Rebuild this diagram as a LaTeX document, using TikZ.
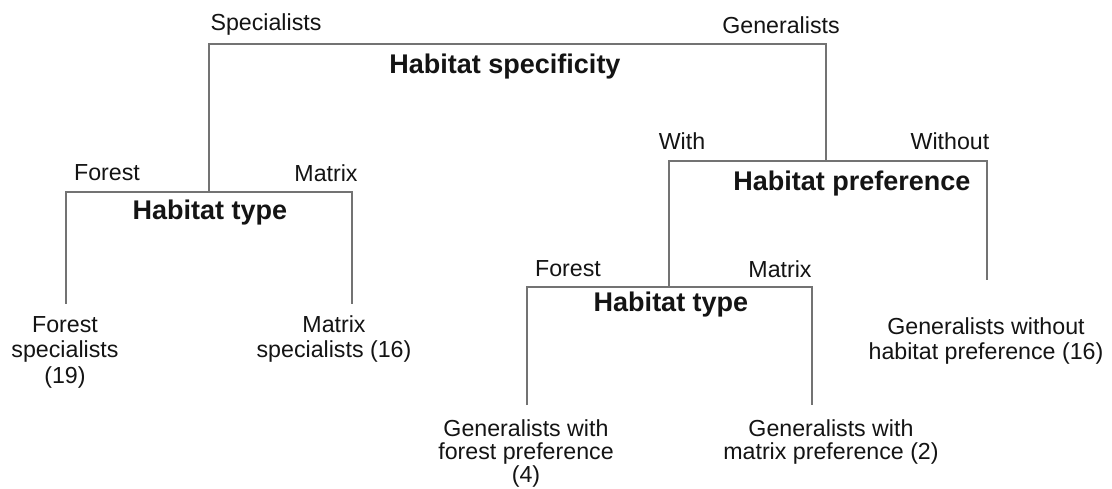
\documentclass[tikz,border=0pt]{standalone}
\usepackage{fontspec}
\setmainfont{Liberation Sans}
\definecolor{linec}{RGB}{115,115,115}
\definecolor{txt}{RGB}{20,20,20}
\begin{document}
\begin{tikzpicture}[x=1pt,y=-1pt,
  lab/.style={font=\fontsize{23.2}{25.5}\selectfont, text=txt, inner sep=0pt, align=center},
  labb/.style={lab, font=\fontsize{23.2}{23}\selectfont},
  head/.style={font=\bfseries\fontsize{27}{29}\selectfont, text=txt, inner sep=0pt},
  tline/.style={draw=linec, line width=1.1pt}]
\useasboundingbox[fill=white] (0,0) rectangle (1112,489);

% labels
\node[lab] (spec) at (266,25) {Specialists};
\node[lab] (gen) at (781,25) {Generalists};
\node[head] (hs) at (505,67) {Habitat specificity};
\node[lab] (for1) at (107,173) {Forest};
\node[lab] (mat1) at (326,173) {Matrix};
\node[head] (ht1) at (210,213) {Habitat type};
\node[lab] (with) at (682,141) {With};
\node[lab] (without) at (950,141) {Without};
\node[head] (hp) at (852,184) {Habitat preference};
\node[lab] (for2) at (568,269) {Forest};
\node[lab] (mat2) at (780,269) {Matrix};
\node[head] (ht2) at (671,305) {Habitat type};

% leaves
\node[lab] (fs) at (65,352) {Forest\\specialists\\(19)};
\node[lab] (ms) at (334,339) {Matrix\\specialists (16)};
\node[lab] (gwo) at (986,341) {Generalists without\\habitat preference (16)};
\node[labb] (gwf) at (526,453.5) {Generalists with\\forest preference\\(4)};
\node[labb] (gwm) at (831,442) {Generalists with\\matrix preference (2)};

% bracket corners
\coordinate (tl) at (209,44);
\coordinate (tr) at (826,44);
\coordinate (h1m) at (209,192);
\coordinate (h1l) at (66,192);
\coordinate (h1r) at (352,192);
\coordinate (f1) at (66,304);
\coordinate (m1) at (352,304);
\coordinate (hpm) at (826,161);
\coordinate (hpl) at (669,161);
\coordinate (hpr) at (987,161);
\coordinate (w1) at (987,280);
\coordinate (h2m) at (669,287);
\coordinate (h2l) at (527,287);
\coordinate (h2r) at (812,287);
\coordinate (f2) at (527,405);
\coordinate (m2) at (812,405);

% connectors
\draw[tline] (h1m) -- (tl) -- (tr) -- (hpm);
\draw[tline] (f1) -- (h1l) -- (h1r) -- (m1);
\draw[tline] (h2m) -- (hpl) -- (hpr) -- (w1);
\draw[tline] (f2) -- (h2l) -- (h2r) -- (m2);
\end{tikzpicture}
\end{document}
